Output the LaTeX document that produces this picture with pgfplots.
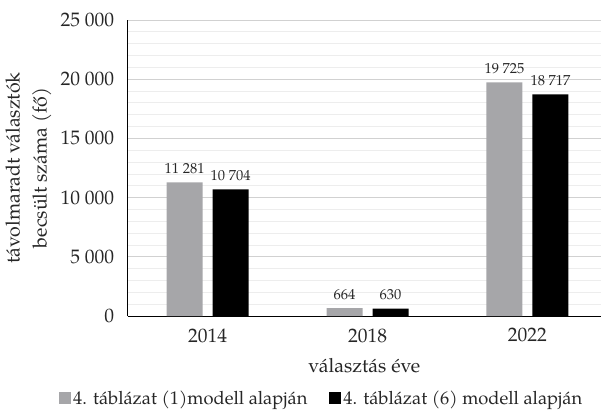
\documentclass[border=0pt]{standalone}
\usepackage{pgfplots}
\pgfplotsset{compat=1.18}
\usepackage{fontspec}
\setmainfont{texgyrepagella}[Extension=.otf, UprightFont=*-regular, BoldFont=*-bold, ItalicFont=*-italic, BoldItalicFont=*-bolditalic]
\definecolor{barg}{RGB}{166,166,169}
\begin{document}
\begin{tikzpicture}
\begin{axis}[
  at={(0pt,0pt)}, anchor=south west,
  scale only axis, width=473.3pt, height=296pt,
  ymin=0, ymax=25000, xmin=-0.5, xmax=2.46,
  ytick={0,5000,...,25000}, minor y tick num=4,
  scaled y ticks=false,
  ymajorgrids, yminorgrids,
  major grid style={draw=black!18, line width=0.8pt},
  minor grid style={draw=black!7, line width=0.8pt},
  axis lines*=left,
  axis line style={-, black, line width=0.9pt},
  major tick length=0pt, minor tick length=0pt,
  xtick={0,1,2}, xticklabels={2014,2018,2022},
  /pgf/number format/.cd, 1000 sep={\ }, assume math mode=true,
  /pgfplots/.cd,
  ticklabel style={font=\fontsize{19.5}{22}\selectfont, text=black!85},
  yticklabel style={xshift=-10pt},
  xticklabel style={yshift=-9pt},
  ybar=10pt, bar width=36pt,
  nodes near coords,
  nodes near coords style={font=\fontsize{14.5}{16}\selectfont, text=black!85, anchor=south, inner sep=3.5pt, yshift=5pt},
  xlabel={választás éve},
  xlabel style={at={(axis description cs:0.5,-0.166)}, anchor=center, font=\fontsize{19.5}{22}\selectfont, text=black!85},
  ylabel={távolmaradt választók\\becsült száma (fő)},
  ylabel style={at={(axis description cs:-0.2096,0.5)}, anchor=center, align=center, font=\fontsize{19.5}{27}\selectfont, text=black!85},
  legend columns=2,
  legend style={at={(axis description cs:0.41,-0.28)}, anchor=center, draw=none, fill=none,
    font=\fontsize{18.3}{20}\selectfont, text=black!85,
    /tikz/every even column/.append style={column sep=20pt}},
  legend image code/.code={\fill[#1, draw=none] (0pt,-5.5pt) rectangle (12pt,6.5pt);},
]
\addplot[fill=barg, draw=none] coordinates {(0,11281) (1,664) (2,19725)};
\addplot[fill=black, draw=none] coordinates {(0,10704) (1,630) (2,18717)};
\legend{4. táblázat (1)modell alapján, 4. táblázat (6) modell alapján}
\end{axis}
\pgfresetboundingbox
\path[use as bounding box] (-127.7pt,-93pt) rectangle (473.3pt,316pt);
\end{tikzpicture}
\end{document}
